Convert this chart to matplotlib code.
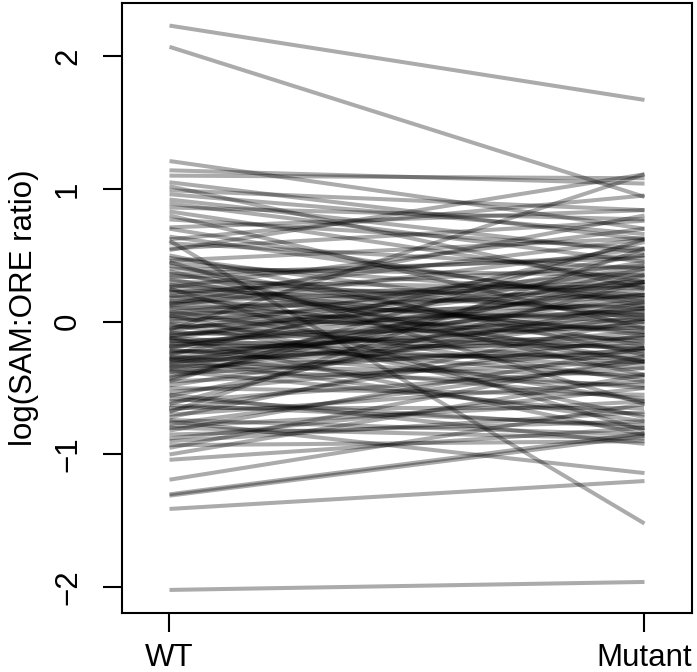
import matplotlib
matplotlib.use("Agg")
import matplotlib.pyplot as plt

plt.rcParams['font.family'] = ['Liberation Sans', 'DejaVu Sans']

groups = ["WT", "Mutant"]

# log(SAM:ORE ratio) per gene
wt = [2.23, 2.07, 1.21, 1.14, 1.10, 1.05, 0.99, 0.89, 0.86, 0.83, 0.77, 0.71,
      0.64, 0.61, 0.59, 0.54, 0.50, 0.46, 0.44, 0.40, 0.38, 0.35, 0.33, 0.30,
      0.28, 0.26, 0.24, 0.22, 0.20, 0.18, 0.16, 0.14, 0.12, 0.10, 0.08, 0.06,
      0.04, 0.02, 0.00, -0.02, -0.04, -0.06, -0.08, -0.10, -0.12, -0.13, -0.15,
      -0.17, -0.19, -0.21, -0.23, -0.25, -0.27, -0.29, -0.31, -0.33, -0.35,
      -0.37, -0.40, -0.42, -0.45, -0.48, -0.50, -0.53, -0.56, -0.58, -0.60,
      -0.62, -0.65, -0.67, -0.70, -0.72, -0.74, -0.75, -0.77, -0.79, -0.82,
      -0.85, -0.88, -0.93, -1.00, -1.04, -1.19, -1.30, -1.31, -1.41, -2.02,
      0.48, 0.42, 0.36, 0.32, 0.27, 0.23, 0.19, 0.15, 0.11, 0.07, 0.03, -0.01,
      -0.05, -0.09, -0.11, -0.14, -0.16, -0.18, -0.20, -0.22, -0.24, -0.26,
      -0.28, -0.30, -0.32, -0.34, -0.36, -0.38, -0.28, -0.12, 0.25, 0.70,
      0.80, 0.92, 1.02, 0.96, 0.62, 0.55, 0.45, -0.68, -0.45, -0.55, -0.63,
      -0.80, -0.90, -0.95, 0.05, 0.13, -0.07, -0.43]
mutant = [1.67, 0.94, 0.70, 1.04, 1.08, 0.62, 0.84, 0.45, 0.77, 0.30, 0.55, 0.84,
          0.15, -1.52, 0.40, 1.11, -0.25, 0.63, 0.20, 0.35, -0.40, 0.05, 0.50, 0.25,
          -0.10, 0.70, 0.10, 0.42, -0.30, 0.30, 0.00, -0.15, 0.55, 0.20, -0.45, 0.12,
          0.35, -0.05, 0.28, -0.60, 0.08, 1.11, -0.20, 0.15, -0.35, 0.45, 0.02,
          -0.12, 0.25, -0.50, -0.02, 0.60, -0.25, 0.10, -0.08, -0.40, 0.22,
          -0.70, -0.15, 0.40, -0.30, 0.05, -0.55, -0.20, 0.15, -0.80, -0.35,
          0.30, -0.65, -0.10, -0.45, 0.02, -0.85, -1.14, -0.30, -0.60, -0.20,
          -0.75, -0.50, -0.90, -0.40, -0.80, -0.62, -0.84, -0.86, -1.20, -1.96,
          0.02, -0.18, 0.48, -0.30, 0.18, -0.08, 0.62, 0.28, -0.22, 0.38, 0.05, -0.32,
          0.20, -0.05, 0.32, -0.42, 0.10, -0.18, 0.42, -0.28, 0.00, -0.58,
          0.18, -0.12, 0.30, -0.22, -0.48, 0.08, -0.75, -0.85, -0.82, 0.12,
          -0.05, 0.52, 0.25, 0.66, 0.95, 0.76, -0.62, 0.55, 0.62, -0.92, -0.78,
          -0.88, -0.68, -0.26, -0.72, 0.80, 0.50, 0.35]

fig = plt.figure(figsize=(6.97, 6.72), dpi=100)
ax = fig.add_axes([122 / 697, (672 - 612.5) / 672, 570 / 697, 609.5 / 672])

for a, b in zip(wt, mutant):
    ax.plot([1, 2], [a, b], color="black", alpha=0.33, lw=2.9,
            solid_capstyle="butt")

lo = min(wt + mutant)
hi = max(wt + mutant)
pad = 0.04 * (hi - lo)
ax.set_ylim(lo - pad, hi + pad)
ax.set_xlim(0.9, 2.1)

ax.set_xticks([1, 2])
ax.set_xticklabels(groups)
ax.set_yticks([-2, -1, 0, 1, 2])
ax.set_yticklabels(["\u22122", "\u22121", "0", "1", "2"], rotation=90,
                   va="center")
ax.tick_params(axis="both", direction="out", length=14, width=1.5,
               labelsize=22.5)
ax.tick_params(axis="y", pad=14)
ax.tick_params(axis="x", pad=8)
ax.set_ylabel("log(SAM:ORE ratio)", fontsize=22.5, labelpad=10)

for s in ax.spines.values():
    s.set_linewidth(1.5)

fig.savefig("out.png", dpi=100)
